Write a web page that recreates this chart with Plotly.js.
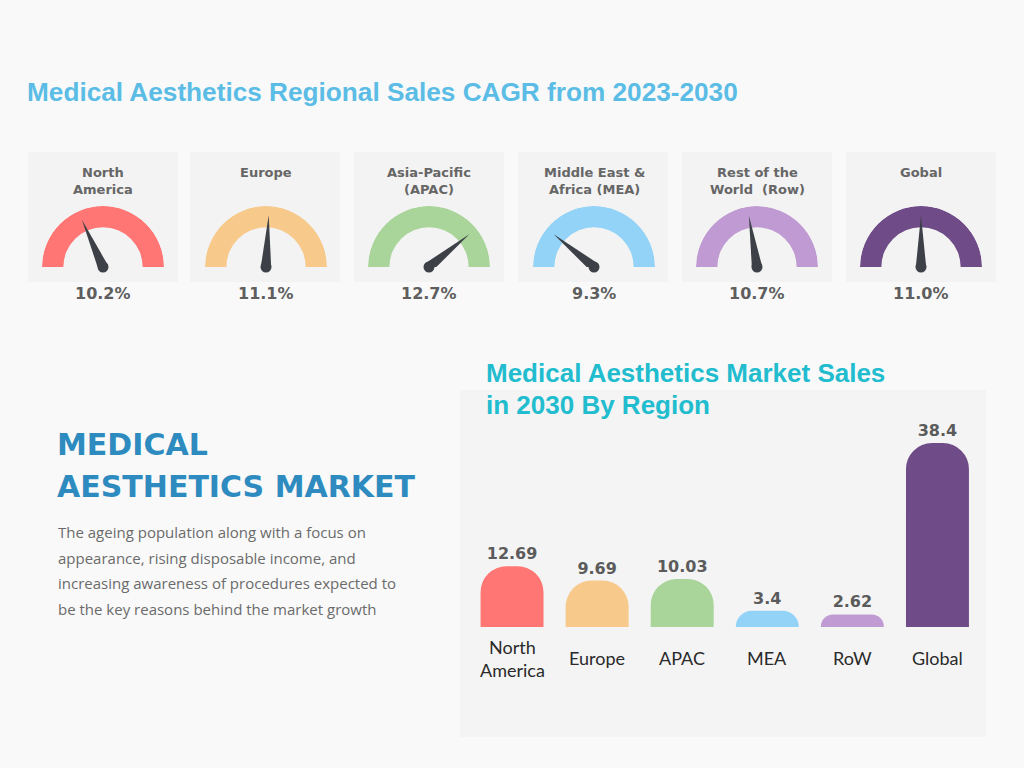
<!DOCTYPE html>
<html>
<head>
<meta charset="utf-8">
<script src="https://cdn.plot.ly/plotly-3.0.1.min.js"></script>
<style>
  html, body { margin: 0; padding: 0; background: #f9f9f9; }
  #chart { width: 1024px; height: 768px; }
</style>
</head>
<body>
<div id="chart"></div>
<script>
// ---------------- DATA ----------------
const gaugeRegions = ["North<br>America", "Europe", "Asia-Pacific<br>(APAC)", "Middle East &<br>Africa (MEA)", "Rest of the<br>World  (Row)", "Gobal"];
const cagrValues = [10.2, 11.1, 12.7, 9.3, 10.7, 11.0];
const gaugeMin = 8;
const gaugeMax = 14;

const barCategories = ["North America", "Europe", "APAC", "MEA", "RoW", "Global"];
const barTickLabels = ["North<br>America", "Europe", "APAC", "MEA", "RoW", "Global"];
const salesValues = [12.69, 9.69, 10.03, 3.4, 2.62, 38.4];

const mainTitle = "Medical Aesthetics Regional Sales CAGR from 2023-2030";
const barTitleLines = ["Medical Aesthetics Market Sales", "in 2030 By Region"];
const headingLines = ["MEDICAL", "AESTHETICS MARKET"];
const paragraphLines = [
  "The ageing population along with a focus on",
  "appearance, rising disposable income, and",
  "increasing awareness of procedures expected to",
  "be the key reasons behind the market growth"
];

// ---------------- STYLE / LAYOUT ----------------
const regionColors = ["#ff7675", "#f7c98b", "#a9d59a", "#93d3f7", "#c09bd3", "#6f4c87"];
const needleColor = "#3d4047";
const W = 1024, H = 768;
function px(x) { return x / W; }
function py(y) { return 1 - y / H; }

const cardLeft = [28, 190, 354, 518, 682, 846];
const cardWidth = 150;
const gaugeCenters = [103, 266, 429, 594, 757, 921];
const gaugeRadius = 61;
const gaugeBase = 267;

const traces = [];
const shapes = [];
const annotations = [];
const layout = {
  width: W, height: H,
  margin: { l: 0, r: 0, t: 0, b: 0 },
  paper_bgcolor: "#f9f9f9",
  plot_bgcolor: "rgba(0,0,0,0)",
  showlegend: false,
  dragmode: false,
  hovermode: false,
  title: {
    text: mainTitle,
    x: px(27), xanchor: "left", xref: "paper",
    y: py(92), yanchor: "middle", yref: "paper",
    font: { family: "Liberation Sans, Arial, sans-serif", size: 26.2, color: "#5bbde5", weight: "bold" }
  }
};

// gauge cards and gauges
cagrValues.forEach((v, i) => {
  shapes.push({
    type: "rect", xref: "paper", yref: "paper", layer: "below",
    x0: px(cardLeft[i]), x1: px(cardLeft[i] + cardWidth),
    y0: py(282), y1: py(152),
    fillcolor: "#f3f3f3", line: { width: 0 }
  });
  const pid = i === 0 ? "polar" : "polar" + (i + 1);
  const cx = gaugeCenters[i];
  layout[pid] = {
    domain: { x: [px(cx - gaugeRadius), px(cx + gaugeRadius)], y: [py(gaugeBase), py(gaugeBase - gaugeRadius)] },
    sector: [0, 180],
    hole: 0,
    bgcolor: "rgba(0,0,0,0)",
    radialaxis: { visible: false, range: [0, 1], showgrid: false },
    angularaxis: { visible: false, showgrid: false, direction: "counterclockwise", rotation: 0 }
  };
  // arc
  traces.push({
    type: "barpolar", subplot: pid,
    r: [0.35], base: [0.65], theta: [90], width: [180],
    marker: { color: regionColors[i], line: { width: 0 } },
    hoverinfo: "skip"
  });
  // needle
  const a = 180 - (v - gaugeMin) / (gaugeMax - gaugeMin) * 180;
  traces.push({
    type: "scatterpolar", subplot: pid, mode: "lines",
    r: [0.085, 0.85, 0.085, 0.085], theta: [a + 90, a, a - 90, a + 90],
    fill: "toself", fillcolor: needleColor, line: { width: 0, color: needleColor },
    cliponaxis: false, hoverinfo: "skip"
  });
  traces.push({
    type: "scatterpolar", subplot: pid, mode: "markers",
    r: [0], theta: [a],
    marker: { size: 11, color: needleColor, line: { width: 0 } },
    cliponaxis: false, hoverinfo: "skip"
  });
  annotations.push({
    xref: "paper", yref: "paper", x: px(cx), y: py(163),
    xanchor: "center", yanchor: "top", showarrow: false,
    text: gaugeRegions[i], align: "center",
    font: { family: "DejaVu Sans, sans-serif", size: 13, color: "#666666", weight: "bold" }
  });
  annotations.push({
    xref: "paper", yref: "paper", x: px(cx), y: py(293),
    xanchor: "center", yanchor: "middle", showarrow: false,
    text: v.toFixed(1) + "%",
    font: { family: "DejaVu Sans, sans-serif", size: 16, color: "#5e5e5e", weight: "bold" }
  });
});

// bar chart panel
shapes.push({
  type: "rect", xref: "paper", yref: "paper", layer: "below",
  x0: px(460), x1: px(986), y0: py(737), y1: py(390),
  fillcolor: "#f4f4f4", line: { width: 0 }
});

traces.push({
  type: "bar", xaxis: "x", yaxis: "y",
  x: barCategories, y: salesValues,
  marker: { color: regionColors, cornerradius: "42%", line: { width: 0 } },
  texttemplate: "%{y}", textposition: "outside", cliponaxis: false,
  textfont: { family: "DejaVu Sans, sans-serif", size: 16, color: "#5b5b5b", weight: "bold" },
  hoverinfo: "skip"
});
layout.bargap = 0.26;
layout.xaxis = {
  domain: [px(469.5), px(980)], range: [-0.5, 5.5], type: "category",
  visible: false, showgrid: false, zeroline: false, fixedrange: true
};
layout.yaxis = {
  domain: [py(627), py(435.4)], range: [0, 40],
  visible: false, showgrid: false, zeroline: false, fixedrange: true
};

barTickLabels.forEach((t, i) => {
  annotations.push({
    xref: "x", yref: "paper", x: i, y: py(658),
    xanchor: "center", yanchor: "middle", showarrow: false,
    text: t, align: "center",
    font: { family: "Lato, sans-serif", size: 18, color: "#2a2a2a" }
  });
});

// bar chart title
barTitleLines.forEach((t, i) => {
  annotations.push({
    xref: "paper", yref: "paper", x: px(484), y: py(373 + i * 32),
    xanchor: "left", yanchor: "middle", showarrow: false, text: t,
    font: { family: "Liberation Sans, Arial, sans-serif", size: 26, color: "#22bccf", weight: "bold" }
  });
});

// left heading + paragraph
headingLines.forEach((t, i) => {
  annotations.push({
    xref: "paper", yref: "paper", x: px(55), y: py(444 + i * 42),
    xanchor: "left", yanchor: "middle", showarrow: false, text: t,
    font: { family: "DejaVu Sans, sans-serif", size: 30, color: "#2e8bbf", weight: "bold" }
  });
});
paragraphLines.forEach((t, i) => {
  annotations.push({
    xref: "paper", yref: "paper", x: px(56), y: py(532 + i * 25.7),
    xanchor: "left", yanchor: "middle", showarrow: false, text: t,
    font: { family: "Open Sans, sans-serif", size: 15, color: "#6b6b6b" }
  });
});

layout.shapes = shapes;
layout.annotations = annotations;

Plotly.newPlot("chart", traces, layout, { displayModeBar: false, staticPlot: true });
</script>
</body>
</html>
